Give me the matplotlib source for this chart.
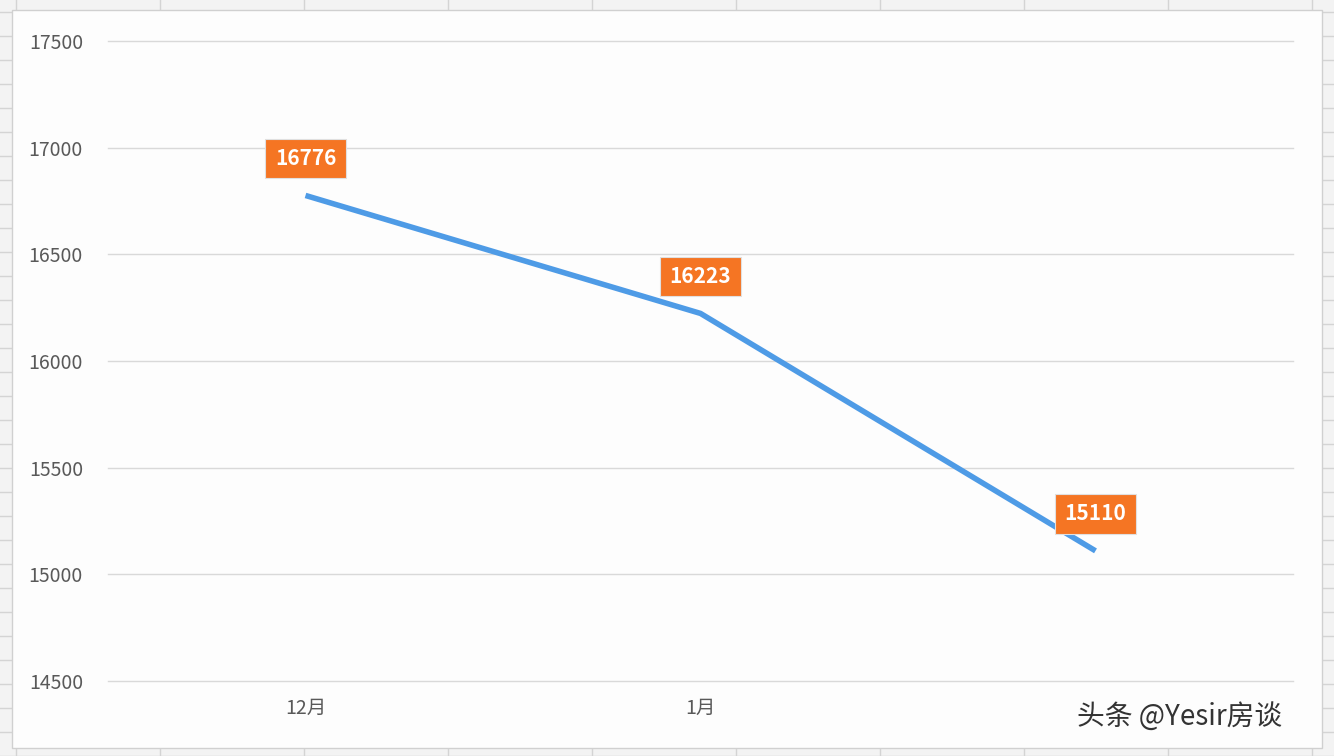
import matplotlib
matplotlib.use("Agg")
import matplotlib.pyplot as plt
from matplotlib.patches import Rectangle

plt.rcParams["font.family"] = ["Noto Sans CJK SC", "DejaVu Sans"]

months = ["12月", "1月", ""]
prices = [16776, 16223, 15110]
yticks = [14500, 15000, 15500, 16000, 16500, 17000, 17500]

W, H = 1334, 756
fig = plt.figure(figsize=(W / 100, H / 100), dpi=100)
fig.patch.set_facecolor("#f3f3f3")

# spreadsheet grid behind the chart
for x in range(16, W, 144):
    fig.add_artist(plt.Line2D([x / W, x / W], [0, 1], color="#d4d4d4", lw=1, zorder=-3))
for y in range(0, H, 24):
    fig.add_artist(plt.Line2D([0, 1], [y / H, y / H], color="#d4d4d4", lw=1, zorder=-3))
fig.add_artist(Rectangle((12 / W, 8 / H), 1310 / W, 738 / H, transform=fig.transFigure,
                         facecolor="#fdfdfd", edgecolor="#d0d0d0", lw=1, zorder=-2))

ax = fig.add_axes([108 / W, 1 - 681 / H, 1185 / W, 640 / H])
ax.set_facecolor("none")
x = range(len(prices))
ax.plot(x, prices, color="#4e9be6", lw=4, solid_capstyle="butt")
ax.set_xlim(-0.5, 2.5)
ax.set_ylim(14500, 17500)
ax.set_yticks(yticks)
ax.set_xticks(list(x))
ax.set_xticklabels(months)
ax.grid(axis="y", color="#d9d9d9", lw=1)
for g in ax.get_ygridlines():
    g.set_clip_on(False)
for s in ax.spines.values():
    s.set_visible(False)
ax.tick_params(length=0, labelsize=14, colors="#595959")
ax.tick_params(axis="y", pad=18)
ax.tick_params(axis="x", pad=12)

for i, v in enumerate(prices):
    ax.annotate(str(v), (i, v), xytext=(0, 37), textcoords="offset pixels",
                ha="center", va="center", fontsize=15, fontweight="bold", color="white",
                bbox=dict(boxstyle="square,pad=0.45", fc="#f57523", ec="#e0e0e0", lw=0.8))

fig.text(1180 / W, 1 - 717 / H, "头条 @Yesir房谈", ha="center", va="center",
         fontsize=20, color="#333333")

fig.savefig("out.png", dpi=100, facecolor=fig.get_facecolor())
